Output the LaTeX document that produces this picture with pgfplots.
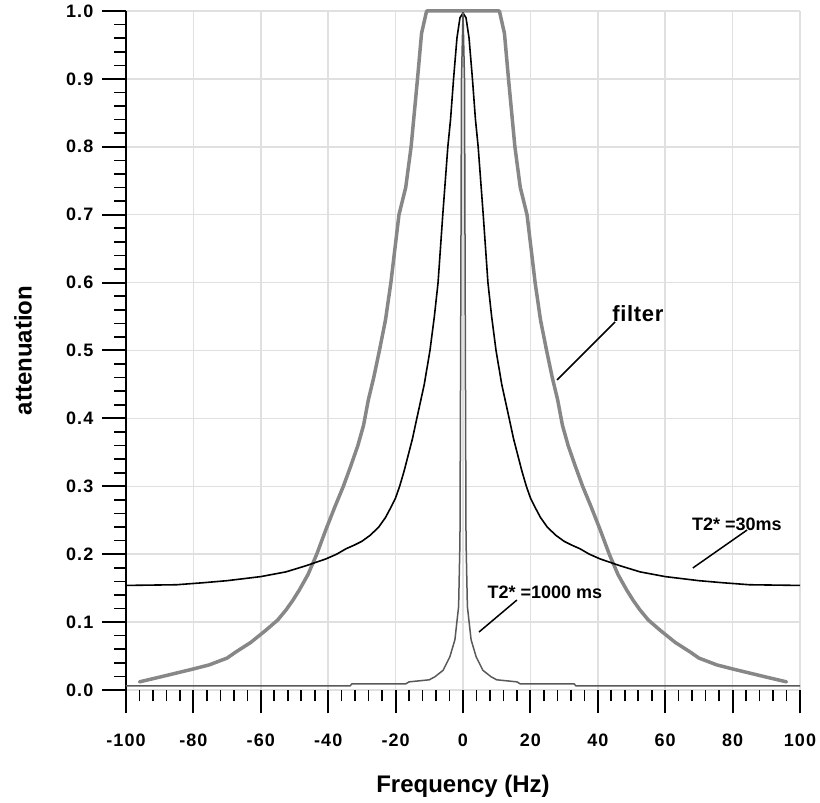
\documentclass[border=0pt]{standalone}
\usepackage{pgfplots}
\pgfplotsset{compat=1.18}
\usepackage{fontspec}
\setmainfont{Liberation Sans}
\newfontfamily\lsfont[LetterSpace=6]{Liberation Sans}
\newfontfamily\lsfonta[LetterSpace=3]{Liberation Sans}

\pgfplotstableread{
x y
-96 0.012
-90 0.019
-85 0.025
-80 0.031
-75.3 0.037
-70 0.047
-67.4 0.056
-63 0.070
-58.5 0.088
-55 0.103
-52.5 0.118
-50.5 0.132
-48.6 0.147
-46 0.170
-43.4 0.200
-40.7 0.236
-38 0.270
-35.5 0.300
-33.3 0.330
-31.2 0.360
-29.5 0.390
-28.1 0.427
-26.5 0.460
-24.8 0.500
-23 0.545
-21.4 0.600
-19.0 0.700
-17.0 0.740
-15.4 0.800
-13.5 0.900
-12.3 0.967
-10.8 1.000
10.8 1.000
12.3 0.967
13.5 0.900
15.4 0.800
17.0 0.740
19.0 0.700
21.4 0.600
23 0.545
24.8 0.500
26.5 0.460
28.1 0.427
29.5 0.390
31.2 0.360
33.3 0.330
35.5 0.300
38 0.270
40.7 0.236
43.4 0.200
46 0.170
48.6 0.147
50.5 0.132
52.5 0.118
55 0.103
58.5 0.088
63 0.070
67.4 0.056
70 0.047
75.3 0.037
80 0.031
85 0.025
90 0.019
96 0.012
}\filtertab

\pgfplotstableread{
x y
-100 0.154
-85 0.155
-77 0.158
-70 0.161
-60 0.167
-52.5 0.174
-46.6 0.183
-40.7 0.193
-37.5 0.200
-34.7 0.208
-32 0.214
-30 0.219
-27.5 0.228
-25 0.240
-23 0.254
-21.5 0.268
-20 0.283
-18.8 0.300
-17.5 0.322
-16.3 0.345
-15 0.370
-13.7 0.400
-11.5 0.450
-9.8 0.500
-8.5 0.550
-7.4 0.600
-6.0 0.700
-4.5 0.800
-3.7 0.840
-2.8 0.900
-1.8 0.960
-0.9 0.990
0 0.997
0.9 0.990
1.8 0.960
2.8 0.900
3.7 0.840
4.5 0.800
6.0 0.700
7.4 0.600
8.5 0.550
9.8 0.500
11.5 0.450
13.7 0.400
15 0.370
16.3 0.345
17.5 0.322
18.8 0.300
20 0.283
21.5 0.268
23 0.254
25 0.240
27.5 0.228
30 0.219
32 0.214
34.7 0.208
37.5 0.200
40.7 0.193
46.6 0.183
52.5 0.174
60 0.167
70 0.161
77 0.158
85 0.155
100 0.154
}\shorttab

\pgfplotstableread{
x y
-100 0.006
-33.5 0.006
-33 0.009
-17 0.009
-16 0.012
-10 0.015
-8.3 0.0196
-5.9 0.029
-3.9 0.049
-2.4 0.074
-1.3 0.123
-0.9 0.22
-0.7 0.5
-0.45 0.9
0 0.997
0.45 0.9
0.7 0.5
0.9 0.22
1.3 0.123
2.4 0.074
3.9 0.049
5.9 0.029
8.3 0.0196
10 0.015
16 0.012
17 0.009
33 0.009
33.5 0.006
100 0.006
}\longtab

\begin{document}
\begin{tikzpicture}
\useasboundingbox (0,0) rectangle (820pt,803pt);
\begin{axis}[
  at={(126pt,113pt)}, anchor=south west,
  scale only axis, width=674pt, height=679pt,
  xmin=-100, xmax=100, ymin=0, ymax=1,
  clip=false,
  separate axis lines,
  axis x line*=bottom, axis y line*=left,
  x axis line style={draw=none},
  y axis line style={line width=2pt, black, -},
  tick align=outside,
  xtick={-100,-80,-60,-40,-20,0,20,40,60,80,100},
  xticklabels={-100,-80,-60,-40,-20,0,20,40,60,80,100},
  ytick={0,0.1,0.2,0.3,0.4,0.5,0.6,0.7,0.8,0.9,1},
  yticklabels={0.0,0.1,0.2,0.3,0.4,0.5,0.6,0.7,0.8,0.9,1.0},
  minor x tick num=4, minor y tick num=4,
  major tick length=23.5pt, minor tick length=11.5pt,
  major tick style={line width=2pt, black},
  minor tick style={line width=1.6pt, black},
  grid=major,
  major grid style={line width=1.5pt, black!12},
  ticklabel style={font=\lsfont\bfseries\fontsize{18}{20}\selectfont, inner sep=0pt},
  xticklabel style={anchor=north, yshift=-20pt},
  yticklabel style={anchor=east, xshift=-9pt},
  xlabel={Frequency (Hz)},
  ylabel={attenuation},
  xlabel style={at={(axis description cs:0.5,-0.1413)}, anchor=center, font=\bfseries\fontsize{24}{26}\selectfont},
  ylabel style={at={(axis description cs:-0.1528,0.5)}, anchor=center, rotate=0, font=\bfseries\fontsize{24}{26}\selectfont},
]
\addplot[color=black!47, line width=3.5pt, line join=round, line cap=round] table {\filtertab};
\addplot[color=black, line width=1.6pt, line join=round] table {\shorttab};
\addplot[color=black!65, line width=1.5pt, line join=round] table {\longtab};

\node[font=\lsfonta\bfseries\fontsize{22}{24}\selectfont, inner sep=0pt] at (axis cs:51.9,0.555) {filter};
\draw[black, line width=1.5pt] (axis cs:45.1,0.542) -- (axis cs:27.9,0.4566);
\node[font=\bfseries\fontsize{18}{20}\selectfont, inner sep=0pt] at (axis cs:81.3,0.2445) {T2* =30ms};
\draw[black, line width=1.5pt] (axis cs:84.3,0.2356) -- (axis cs:68.2,0.1797);
\node[font=\bfseries\fontsize{18}{20}\selectfont, inner sep=0pt] at (axis cs:24.3,0.1443) {T2* =1000 ms};
\draw[black, line width=1.5pt] (axis cs:16.0,0.1325) -- (axis cs:4.75,0.0854);
\end{axis}
\end{tikzpicture}
\end{document}
